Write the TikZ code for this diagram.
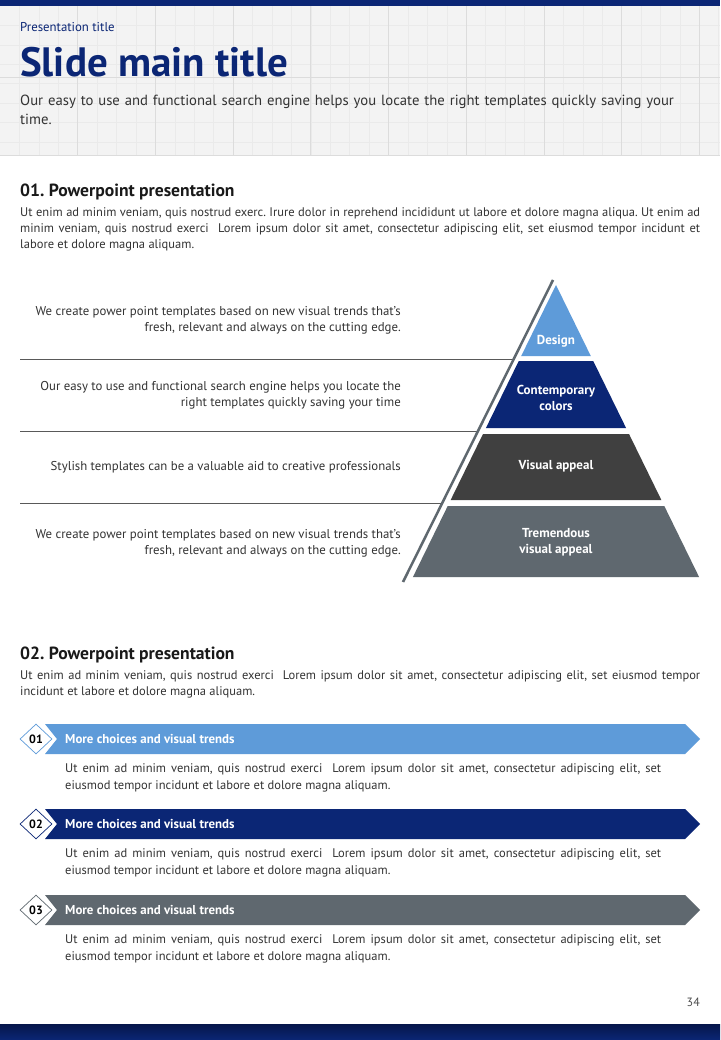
\documentclass[tikz,border=0pt]{standalone}
\usepackage{fontspec}
\setmainfont{PT Sans}
\usepackage{tikz}
\usetikzlibrary{shapes.geometric}
\usetikzlibrary{positioning}
\frenchspacing
\definecolor{navy}{HTML}{0B2675}
\definecolor{navydark}{HTML}{06164A}
\definecolor{skyblue}{HTML}{5E9BD9}
\definecolor{charcoal}{HTML}{404040}
\definecolor{slate}{HTML}{5F686F}
\definecolor{headbg}{HTML}{F3F3F3}
\definecolor{gridminor}{HTML}{EAEAEA}
\definecolor{gridmajor}{HTML}{DCDCDC}
\definecolor{bodygray}{HTML}{333333}
\tikzset{heading/.style = {anchor=base west, inner sep=0pt, text=black!90,
                           font=\fontsize{17.6}{20}\selectfont\bfseries},
         body/.style = {anchor=base west, inner sep=0pt, text=bodygray, text width=680pt,
                        align=justify, font=\fontsize{12.5}{16}\selectfont},
         sidetext/.style = {anchor=base east, inner sep=0pt, text=bodygray, align=right,
                            font=\fontsize{12.8}{16}\selectfont},
         layertext/.style = {text=white, align=center, inner sep=0pt,
                             font=\fontsize{13}{16}\selectfont\bfseries},
         numbox/.style = {diamond, fill=white, line width=0.7pt, minimum width=32pt,
                          minimum height=30pt, inner sep=0pt,
                          font=\fontsize{12}{14}\selectfont\bfseries},
         trendtitle/.style = {anchor=west, inner sep=0pt, text=white,
                              font=\fontsize{12.9}{14}\selectfont\bfseries},
         trendbody/.style = {anchor=base west, inner sep=0pt, text=bodygray, text width=596pt,
                             align=justify, font=\fontsize{12.5}{17}\selectfont},
         rule/.style = {draw=black!65, line width=0.8pt},
         slash/.style = {draw=slate, line width=2.5pt}}
\begin{document}
\begin{tikzpicture}[x=1pt,y=-1pt]
    \useasboundingbox (0,0) rectangle (720,1040);
    \fill [white] (0,0) rectangle (720,1040);
    \fill [headbg] (0,6) rectangle (720,155);
    \foreach \x in {19.425,38.85,...,720} {
      \draw [gridminor, line width=0.5pt] (\x,6) -- (\x,155);
    }
    \foreach \y in {25.4,44.8,...,155} {
      \draw [gridminor, line width=0.5pt] (0,\y) -- (720,\y);
    }
    \foreach \x in {77.7,155.4,...,720} {
      \draw [gridmajor, line width=0.7pt] (\x,6) -- (\x,155);
    }
    \draw [gridmajor, line width=0.7pt] (0,77.7) -- (720,77.7);
    \draw [gridmajor, line width=0.8pt] (0,155) -- (720,155);
    \fill [navy] (0,0) rectangle (720,6);
    \shade [top color=navydark, bottom color=navy] (0,1024) rectangle (720,1040);

    \node [anchor=base west, inner sep=0pt, text=navy, font=\fontsize{12.8}{14}\selectfont] (pretitle) at (20,32) {Presentation title};
    \node [anchor=base west, inner sep=0pt, text=navy, font=\fontsize{41}{44}\selectfont\bfseries] (maintitle) at (20,77) {Slide main title};
    \node [anchor=base west, inner sep=0pt, text=black!80, text width=690pt, align=left, font=\fontsize{14.7}{19}\selectfont] (subtitle) at (20,106) {Our easy to use and functional search engine helps you locate the right templates quickly saving your\\time.};

    \node [heading] (head1) at (20,197) {01. Powerpoint presentation};
    \node [body] (para1) at (20,217) {Ut enim ad minim veniam, quis nostrud exerc. Irure dolor in reprehend incididunt ut labore et dolore magna aliqua. Ut enim ad\linebreak minim veniam, quis nostrud exerci\ \ Lorem ipsum dolor sit amet, consectetur adipiscing elit, set eiusmod tempor incidunt et\linebreak labore et dolore magna aliquam.};

    \node [sidetext] (side1) at (401,331) {We create power point templates based on new visual trends that's\\fresh, relevant and always on the cutting edge.};
    \node [sidetext] (side2) at (401,406) {Our easy to use and functional search engine helps you locate the\\right templates quickly saving your time};
    \node [sidetext] (side3) at (401,470) {Stylish templates can be a valuable aid to creative professionals};
    \node [sidetext] (side4) at (401,554) {We create power point templates based on new visual trends that's\\fresh, relevant and always on the cutting edge.};

    \coordinate (slashtop) at (553,280);
    \coordinate (slashbot) at (403,582);
    \foreach \y in {359,431,503} {
      \draw [rule] (20,\y) -- ({553-0.4967*(\y-280)},\y);
    }
    \foreach \ya/\yb/\col in {285/356/skyblue, 361/428/navy, 434/500/charcoal, 506/577/slate} {
      \fill [\col] ({556-0.49*(\ya-285)},\ya) -- ({556+0.49*(\ya-285)},\ya)
        -- ({556+0.49*(\yb-285)},\yb) -- ({556-0.49*(\yb-285)},\yb) -- cycle;
    }
    \draw [slash] (slashtop) -- (slashbot);
    \node [layertext] (layer1) at (556,341) {Design};
    \node [layertext] (layer2) at (556,398) {Contemporary\\colors};
    \node [layertext] (layer3) at (556,466) {Visual appeal};
    \node [layertext] (layer4) at (556,542) {Tremendous\\visual appeal};

    \node [heading] (head2) at (20,659) {02. Powerpoint presentation};
    \node [body] (para2) at (20,679) {Ut enim ad minim veniam, quis nostrud exerci\ \ Lorem ipsum dolor sit amet, consectetur adipiscing elit, set eiusmod tempor\linebreak incidunt et labore et dolore magna aliquam.};

    \foreach \y/\col/\n in {739/skyblue/01, 824/navy/02, 910/slate/03} {
      \fill [\col] (45,\y-15) -- (685,\y-15) -- (700,\y) -- (685,\y+15) -- (45,\y+15) -- (57,\y) -- cycle;
      \node [numbox, draw=\col] (num\n) at (36,\y) {\n};
      \node [trendtitle] (trend\n) at (65,\y) {More choices and visual trends};
      \node [trendbody] (trendtext\n) at (65,\y+33) {Ut enim ad minim veniam, quis nostrud exerci\ \ Lorem ipsum dolor sit amet, consectetur adipiscing elit, set\linebreak eiusmod tempor incidunt et labore et dolore magna aliquam.};
    }

    \node [anchor=base east, inner sep=0pt, text=black!70, font=\fontsize{12}{14}\selectfont] (pagenum) at (700,1006) {34};
  \end{tikzpicture}
\end{document}
